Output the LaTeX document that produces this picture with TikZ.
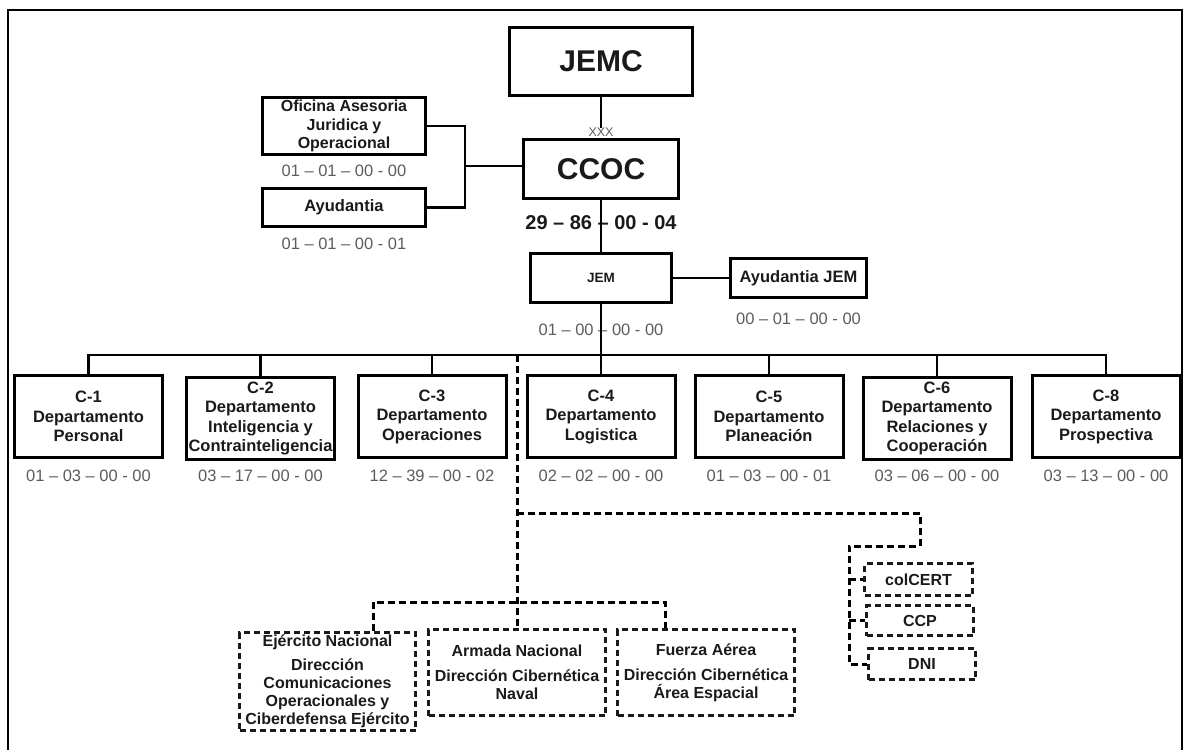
\documentclass[tikz,border=0pt]{standalone}
\usepackage{fontspec}
\setmainfont{Liberation Sans}
\usepackage{xcolor}
\usetikzlibrary{positioning}
\definecolor{inkc}{HTML}{1A1A1A}
\definecolor{codec}{HTML}{5C5C5C}
\tikzset{%
unit/.style={draw=black,line width=3pt,rectangle,inner sep=1pt,align=center,text=inkc,font=\bfseries\fontsize{16.5}{19.5}\selectfont},
bigunit/.style={unit,font=\bfseries\fontsize{30}{32}\selectfont},
dept/.style={unit,minimum width=148pt,minimum height=82pt},
extunit/.style={draw=inkc,line width=2.5pt,dash pattern=on 6pt off 4pt,rectangle,inner sep=1pt,align=center,text=inkc,font=\bfseries\fontsize{16}{18}\selectfont},
code/.style={font=\fontsize{16.5}{19}\selectfont,text=codec,inner sep=0pt},
boldcode/.style={font=\bfseries\fontsize{20}{24}\selectfont,text=inkc,inner sep=0pt},
link/.style={draw=black,line width=2.6pt},
dashlink/.style={draw=black,line width=3pt,dash pattern=on 7pt off 4pt}
}

\begin{document}
\begin{tikzpicture}[x=1pt,y=-1pt]
  \useasboundingbox (0,0) rectangle (1185,749);
  \draw[line width=2.4pt] (8,10) rectangle (1182,760);

  \node[bigunit,minimum width=183pt,minimum height=68pt] (jemc) at (601,61.5) {JEMC};
  \node[bigunit,minimum width=155pt,minimum height=59pt] (ccoc) at (601,169) {CCOC};
  \node[font=\fontsize{12.5}{13}\selectfont,text=codec,inner sep=0pt] (xxx) at (601,132) {XXX};
  \node[boldcode,below=15pt of ccoc] (ccocn) {29 – 86 – 00 - 04};
  \node[unit,font=\bfseries\fontsize{13.5}{15}\selectfont,minimum width=141pt,minimum height=49pt] (jem) at (601,278) {JEM};
  \node[code,below=20pt of jem] (jemn) {01 – 00 – 00 - 00};
  \node[unit,minimum width=136pt,minimum height=39pt] (ajem) at (798.5,278) {Ayudantia JEM};
  \node[code,below=14pt of ajem] (ajemn) {00 – 01 – 00 - 00};

  \node[unit,font=\bfseries\fontsize{16}{18.5}\selectfont,inner sep=2pt,minimum width=163pt,minimum height=57pt] (ofi) at (344,126) {Oficina Asesoria\\Juridica y\\Operacional};
  \node[code,below=9pt of ofi] (ofin) {01 – 01 – 00 - 00};
  \node[unit,minimum width=163pt,minimum height=38pt] (ayu) at (344,207.5) {Ayudantia};
  \node[code,below=10pt of ayu] (ayun) {01 – 01 – 00 - 01};

  \node[dept] (c1) at (88.5,416.5) {C-1\\Departamento\\Personal};
  \node[dept] (c2) at (260.5,418.5) {C-2\\Departamento\\Inteligencia y\\Contrainteligencia};
  \node[dept] (c3) at (432,416.5) {C-3\\Departamento\\Operaciones};
  \node[dept] (c4) at (601,416.5) {C-4\\Departamento\\Logistica};
  \node[dept] (c5) at (769,416.5) {C-5\\Departamento\\Planeación};
  \node[dept] (c6) at (937,418.5) {C-6\\Departamento\\Relaciones y\\Cooperación};
  \node[dept] (c8) at (1106,416.5) {C-8\\Departamento\\Prospectiva};
  \node[code,below=11pt of c1] (c1n) {01 – 03 – 00 - 00};
  \node[code,below=9pt of c2] (c2n) {03 – 17 – 00 - 00};
  \node[code,below=11pt of c3] (c3n) {12 – 39 – 00 - 02};
  \node[code,below=11pt of c4] (c4n) {02 – 02 – 00 - 00};
  \node[code,below=11pt of c5] (c5n) {01 – 03 – 00 - 01};
  \node[code,below=9pt of c6] (c6n) {03 – 06 – 00 - 00};
  \node[code,below=11pt of c8] (c8n) {03 – 13 – 00 - 00};

  \node[extunit,minimum width=176pt,minimum height=98pt] (ejer) at (327.5,681.5) {Ejército Nacional\\[6pt]Dirección\\Comunicaciones\\Operacionales y\\Ciberdefensa Ejército};
  \node[extunit,minimum width=177pt,minimum height=86pt] (arma) at (517,672.5) {Armada Nacional\\[7pt]Dirección Cibernética\\Naval};
  \node[extunit,minimum width=177pt,minimum height=86pt] (fuer) at (706,672.5) {Fuerza Aérea\\[7pt]Dirección Cibernética\\Área Espacial};
  \node[extunit,minimum width=108pt,minimum height=32pt] (col) at (918.5,579.5) {colCERT};
  \node[extunit,minimum width=107pt,minimum height=30pt] (ccp) at (920,620.5) {CCP};
  \node[extunit,minimum width=107pt,minimum height=31pt] (dni) at (922,664) {DNI};

  \coordinate (bus) at (601,355);
  \coordinate (brk) at (465,166);
  \coordinate (dtop) at (517,355);
  \coordinate (dmid) at (517,513);
  \coordinate (dlow) at (517,602);
  \coordinate (tapl) at (373,602);
  \coordinate (tapr) at (665,602);
  \coordinate (rc1) at (920,513);
  \coordinate (rc2) at (849,546);

  \draw[link] (jemc.south) -- (xxx.north);
  \draw[link] (ccoc.south) -- (jem.north);
  \draw[link] (jem.south) -- (c4.north);
  \draw[link] (jem.east) -- (ajem.west);
  \draw[link] (ofi.east) -| (brk) |- (ayu.east);
  \draw[link] (brk) -- (brk -| ccoc.west);
  \draw[link] (c1.north) |- (bus -| c8.north) -- (c8.north);
  \draw[link] (c2.north) -- (c2.north |- bus);
  \draw[link] (c3.north) -- (c3.north |- bus);
  \draw[link] (c5.north) -- (c5.north |- bus);
  \draw[link] (c6.north) -- (c6.north |- bus);

  \draw[dashlink] (dtop) -- (dlow) -- (dlow |- arma.north);
  \draw[dashlink] (tapl |- ejer.north) -- (tapl) -- (tapr) -- (tapr |- fuer.north);
  \draw[dashlink] (dmid) -- (rc1) -- (rc1 |- rc2) -- (rc2) -- (rc2 |- dni.west) -- (dni.west);
  \draw[dashlink] (rc2 |- col.west) -- (col.west);
  \draw[dashlink] (rc2 |- ccp.west) -- (ccp.west);
\end{tikzpicture}
\end{document}
